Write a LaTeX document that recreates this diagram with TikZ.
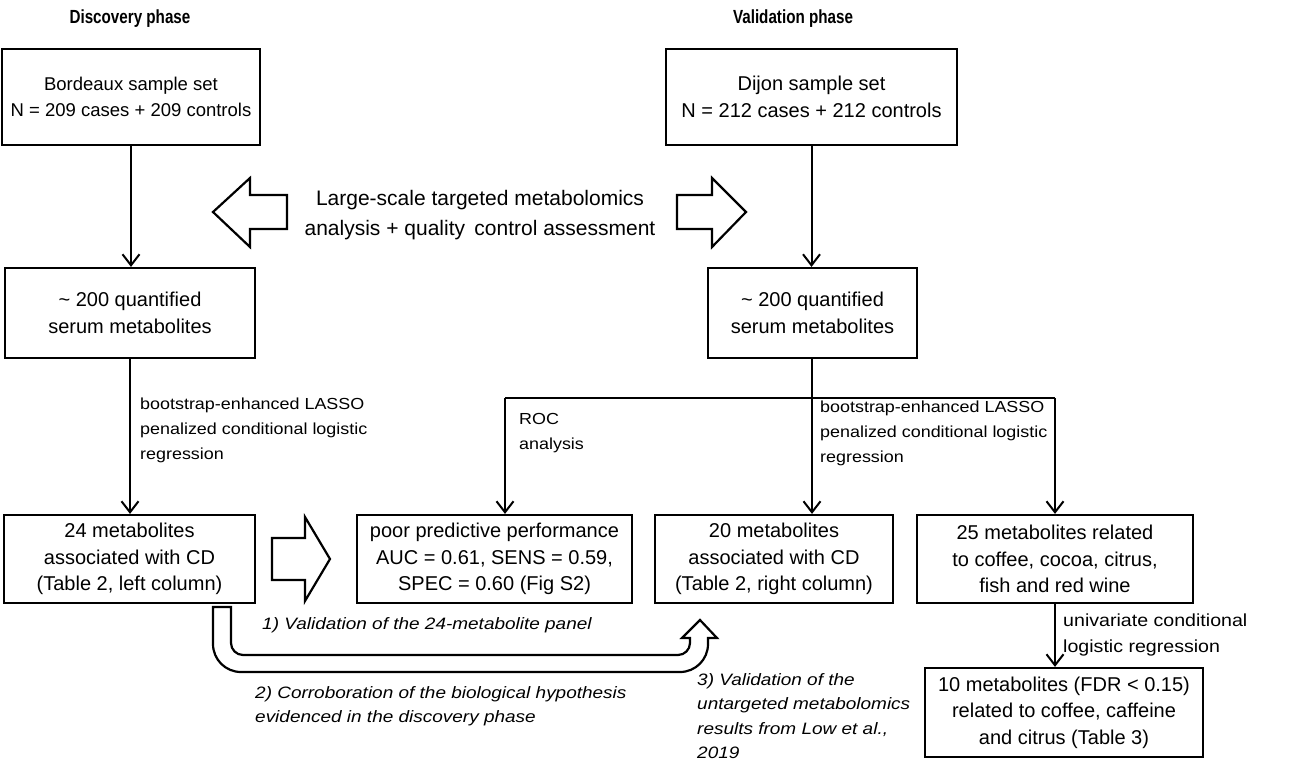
\documentclass[tikz,border=0pt]{standalone}
\usepackage{fontspec}
\setmainfont{Liberation Sans}
\newfontfamily\wfont[FakeStretch=1.12]{Liberation Sans}
\newfontfamily\wifont[FakeStretch=1.15]{Liberation Sans}
\newfontfamily\nfont[FakeStretch=0.8]{Liberation Sans}
\usetikzlibrary{arrows.meta}
\begin{document}
\begin{tikzpicture}[x=1pt,y=-1pt,
  box/.style={draw,line width=2.2pt,align=center,inner sep=0pt,font=\fontsize{20}{26.5}\selectfont},
  lab/.style={align=left,inner sep=0pt,anchor=west,font=\wfont\fontsize{16}{25}\selectfont},
  itl/.style={align=left,inner sep=0pt,anchor=west,font=\wifont\fontsize{16.5}{24.5}\selectfont\itshape},
  ttl/.style={inner sep=0pt,font=\nfont\fontsize{19}{22}\selectfont\bfseries},
  conn/.style={line width=2pt,-{Straight Barb[length=11pt,width=17pt,line width=2pt]}},
  plain/.style={line width=2pt},
  fat/.style={line width=2.2pt,line join=miter,fill=white}]
\useasboundingbox[fill=white] (0,0) rectangle (1298,761);

% titles
\node[ttl] (t1) at (130,19) {Discovery phase};
\node[ttl] (t2) at (793,19) {Validation phase};

% boxes
\node[box,minimum width=258pt,minimum height=96pt,font=\fontsize{18.5}{26.5}\selectfont] (bord) at (131,97) {Bordeaux sample set\\N = 209 cases + 209 controls};
\node[box,minimum width=291pt,minimum height=96pt] (dij) at (811.5,97) {Dijon sample set\\N = 212 cases + 212 controls};
\node[box,minimum width=250pt,minimum height=90pt] (q1) at (130,313) {\textasciitilde{} 200 quantified\\serum metabolites};
\node[box,minimum width=209pt,minimum height=90pt] (q2) at (812.5,313) {\textasciitilde{} 200 quantified\\serum metabolites};
\node[box,minimum width=251pt,minimum height=88pt] (m24) at (129.5,559) {24 metabolites\\associated with CD\\(Table 2, left column)};
\node[box,minimum width=275pt,minimum height=88pt] (poor) at (494.5,559) {poor predictive performance\\AUC = 0.61, SENS = 0.59,\\SPEC = 0.60 (Fig S2)};
\node[box,minimum width=238pt,minimum height=88pt] (m20) at (774,559) {20 metabolites\\associated with CD\\(Table 2, right column)};
\node[box,minimum width=276pt,minimum height=88pt] (m25) at (1055,559) {25 metabolites related\\to coffee, cocoa, citrus,\\fish and red wine};
\node[box,minimum width=278pt,minimum height=89pt] (m10) at (1064,712.5) {10 metabolites (FDR < 0.15)\\related to coffee, caffeine\\and citrus (Table 3)};

% middle text
\node[align=center,inner sep=0pt,font=\fontsize{21}{30}\selectfont] (lsm) at (480,215) {Large-scale targeted metabolomics\\analysis + quality\, control assessment};

% fat arrows
\draw[fat] (213,212) -- (250,178) -- (250,195) -- (287,195) -- (287,229) -- (250,229) -- (250,247) -- cycle;
\draw[fat] (746,212) -- (712,178) -- (712,195) -- (677,195) -- (677,229) -- (712,229) -- (712,247) -- cycle;
\draw[fat] (330,559) -- (305,517) -- (305,538) -- (272,538) -- (272,580) -- (305,580) -- (305,601) -- cycle;
\draw[fat] (213,607) -- (213,644) .. controls (213,659.5) and (225.5,672) .. (241,672) -- (680,672)
  .. controls (695.5,672) and (708,659.5) .. (708,644) -- (708,638) -- (717,638) -- (700,620) -- (682,638) -- (690,638)
  -- (690,643) .. controls (690,649.6) and (684.6,655) .. (678,655) -- (243,655)
  .. controls (236.4,655) and (231,649.6) .. (231,643) -- (231,607) -- cycle;

% connectors
\draw[conn] (bord.south) -- (q1.north -| bord.south);
\draw[conn] (dij.south) -- (q2.north -| dij.south);
\draw[conn] (q1.south) -- (m24.north -| q1.south);
\coordinate (br) at (812,398);
\coordinate (bl) at (505,398);
\coordinate (brr) at (1055,398);
\draw[plain] (q2.south -| br) -- (br);
\draw[plain] (bl) -- (brr);
\draw[conn] (bl) -- (bl |- poor.north);
\draw[conn] (br) -- (br |- m20.north);
\draw[conn] (brr) -- (brr |- m25.north);
\draw[conn] (m25.south -| brr) -- (brr |- m10.north);

% labels
\node[lab] (l1) at (140,430) {bootstrap-enhanced LASSO\\penalized conditional logistic\\regression};
\node[lab] (l2) at (519,433) {ROC\\analysis};
\node[lab] (l3) at (820,433) {bootstrap-enhanced LASSO\\penalized conditional logistic\\regression};
\node[lab,font=\wfont\fontsize{17.5}{26}\selectfont] (l4) at (1063,635) {univariate conditional\\logistic regression};

\node[itl] (i1) at (262,625) {1) Validation of the 24-metabolite panel};
\node[itl] (i2) at (255,706) {2) Corroboration of the biological hypothesis\\evidenced in the discovery phase};
\node[itl] (i3) at (697,716) {3) Validation of the\\untargeted metabolomics\\results from Low et al.,\\2019};
\end{tikzpicture}
\end{document}
